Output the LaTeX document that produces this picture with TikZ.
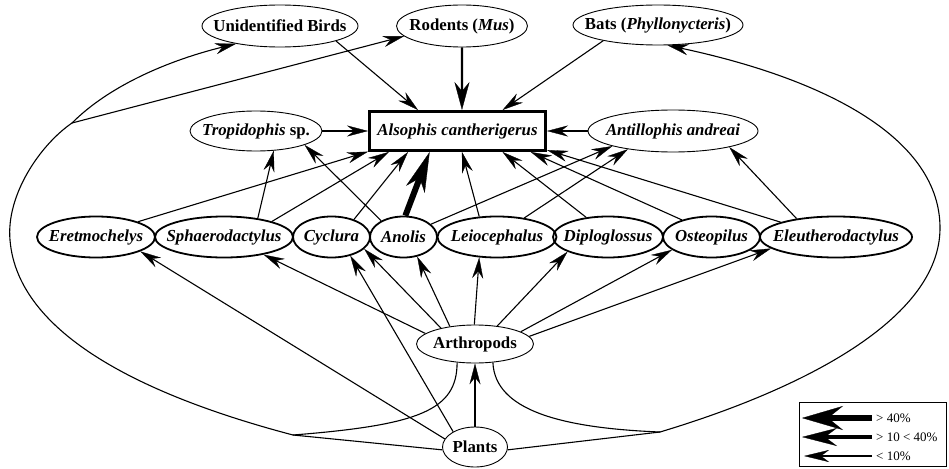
\documentclass[tikz,border=0pt]{standalone}
\usepackage{fontspec}
\setmainfont{Liberation Serif}
\usetikzlibrary{shapes.geometric,arrows.meta}
\newcommand\lblfont{\fontsize{16.8}{18}\selectfont\bfseries}
\newcommand\legfont{\fontsize{13}{14}\selectfont}
\newcommand\mkc[1]{\makebox[0pt]{#1}}
\begin{document}
\begin{tikzpicture}[x=1pt,y=-1pt,
  upell/.style={ellipse,draw,line width=0.9pt,inner sep=0pt,font=\lblfont},
  lowell/.style={ellipse,draw,line width=1.8pt,inner sep=0pt,minimum height=41,font=\lblfont\itshape},
  conn/.style={line width=1.1pt},
  thinarr/.style={conn,-{Stealth[length=21pt,width=11pt,inset=7pt,line width=0.3pt]}},
  medarr/.style={line width=2.2pt,-{Stealth[length=28pt,width=15pt,inset=9pt,line width=0.3pt]}},
  thickarr/.style={line width=6pt,-{Stealth[length=40pt,width=20pt,inset=12pt,line width=0.3pt]}},
  legA/.style={line width=6pt,-{Stealth[length=41pt,width=24pt,inset=15pt,line width=0.3pt]}},
  legB/.style={line width=4pt,-{Stealth[length=35pt,width=18pt,inset=12pt,line width=0.3pt]}},
  legC/.style={line width=1.8pt,-{Stealth[length=25pt,width=12pt,inset=8pt,line width=0.3pt]}},
  legtext/.style={anchor=west,inner sep=0pt,font=\legfont}
]
\useasboundingbox (0,0) rectangle (949,468);

% upper nodes
\node[upell,minimum width=156,minimum height=42] (birds) at (280,26) {\mkc{Unidentified Birds}};
\node[upell,minimum width=131,minimum height=42] (rodents) at (462,26) {\mkc{Rodents (\textit{Mus})}};
\node[upell,minimum width=170,minimum height=40] (bats) at (658,25) {\mkc{Bats (\textit{Phyllonycteris})}};
\node[draw,line width=3pt,minimum width=176,minimum height=39,inner sep=0pt,font=\lblfont\itshape] (als) at (457.5,131) {Alsophis cantherigerus};
\node[upell,minimum width=132,minimum height=40] (trop) at (256,131) {\mkc{\textit{Tropidophis} sp.}};
\node[upell,minimum width=170,minimum height=42,font=\lblfont\itshape] (anti) at (673,131) {\mkc{Antillophis andreai}};

% lower row
\node[lowell,minimum width=118] (eret) at (96,237) {\mkc{Eretmochelys}};
\node[lowell,minimum width=138] (sphae) at (224,237) {\mkc{Sphaerodactylus}};
\node[lowell,minimum width=77] (cycl) at (331.5,237) {\mkc{Cyclura}};
\node[lowell,minimum width=67] (anol) at (403.5,237) {\mkc{Anolis}};
\node[lowell,minimum width=119] (leio) at (497,237) {\mkc{Leiocephalus}};
\node[lowell,minimum width=110] (dipl) at (608,237) {\mkc{Diploglossus}};
\node[lowell,minimum width=97] (oste) at (711.5,237) {\mkc{Osteopilus}};
\node[lowell,minimum width=152] (eleu) at (836,237) {\mkc{Eleutherodactylus}};

\node[upell,minimum width=117,minimum height=38] (arth) at (475,344) {\mkc{Arthropods}};
\node[upell,minimum width=65,minimum height=40] (plants) at (475,447) {\mkc{Plants}};

% edges into Alsophis
\draw[thinarr] (birds.-15) -- (als.152);
\draw[medarr] (rodents.south) -- (als.78);
\draw[thinarr] (bats.196) -- (als.25);
\draw[thinarr] (trop.east) -- (als.west);
\draw[thinarr] (anti.west) -- (als.east);
\draw[thinarr] (eret.20) -- (als.193);
\draw[thinarr] (sphae.18) -- (als.197);
\draw[thinarr] (cycl.38) -- (als.203);
\draw[thickarr] (anol.85) -- (als.217);
\draw[thinarr] (leio.131) -- (als.-78);
\draw[thinarr] (dipl.138) -- (als.-25);
\draw[thinarr] (oste.150) -- (als.-16);
\draw[thinarr] (eleu.165) -- (als.-12);
% edges into Tropidophis / Antillophis
\draw[thinarr] (sphae.29) -- (trop.-48);
\draw[thinarr] (anol.144) -- (trop.-16);
\draw[thinarr] (anol.25) -- (anti.194);
\draw[thinarr] (leio.35) -- (anti.202);
\draw[thinarr] (eleu.155) -- (anti.-16);

% lower edges
\draw[thinarr] (plants.165) -- (eret.-18);
\draw[thinarr] (arth.168) -- (sphae.-24);
\draw[thinarr] (arth.155) -- (cycl.-20);
\draw[thinarr] (plants.145) -- (cycl.-45);
\draw[thinarr] (arth.145) -- (anol.-55);
\draw[thinarr] (arth.92) -- (leio.229);
\draw[thinarr] (arth.39) -- (dipl.200);
\draw[thinarr] (arth.15) -- (oste.198);
\draw[thinarr] (arth.8) -- (eleu.190);
\draw[thinarr] (plants.north) -- (arth.south);

% big loops
\coordinate (j1) at (293,435);
\coordinate (j2) at (72,123);
\coordinate (j3) at (660,432);
\draw[conn] (arth.226) .. controls (457,410) and (420,425) .. (j1);
\draw[conn] (plants.185) -- (j1);
\draw[thinarr] (j1) .. controls (160,400) and (18,340) .. (10,240)
   .. controls (6,195) and (40,145) .. (j2)
   .. controls (110,85) and (170,60) .. (birds.202);
\draw[thinarr] (j2) -- (rodents.190);
\draw[conn] (arth.-46) .. controls (495,410) and (560,428) .. (j3);
\draw[conn] (plants.-5) -- (j3);
\draw[thinarr] (j3) .. controls (800,390) and (940,320) .. (940,228)
   .. controls (940,140) and (830,80) .. (bats.-65);

% legend
\node[draw,line width=0.8pt,minimum width=147,minimum height=64,inner sep=0pt] (legend) at (872.5,434) {};
\coordinate (la1) at (872,418); \coordinate (lb1) at (802,418);
\coordinate (la2) at (872,437); \coordinate (lb2) at (802,437);
\coordinate (la3) at (872,456); \coordinate (lb3) at (804,456);
\draw[legA] (la1) -- (lb1);
\draw[legB] (la2) -- (lb2);
\draw[legC] (la3) -- (lb3);
\node[legtext] (lt1) at (876,418) {> 40\%};
\node[legtext] (lt2) at (876,437) {> 10 < 40\%};
\node[legtext] (lt3) at (876,456) {< 10\%};
\end{tikzpicture}
\end{document}
